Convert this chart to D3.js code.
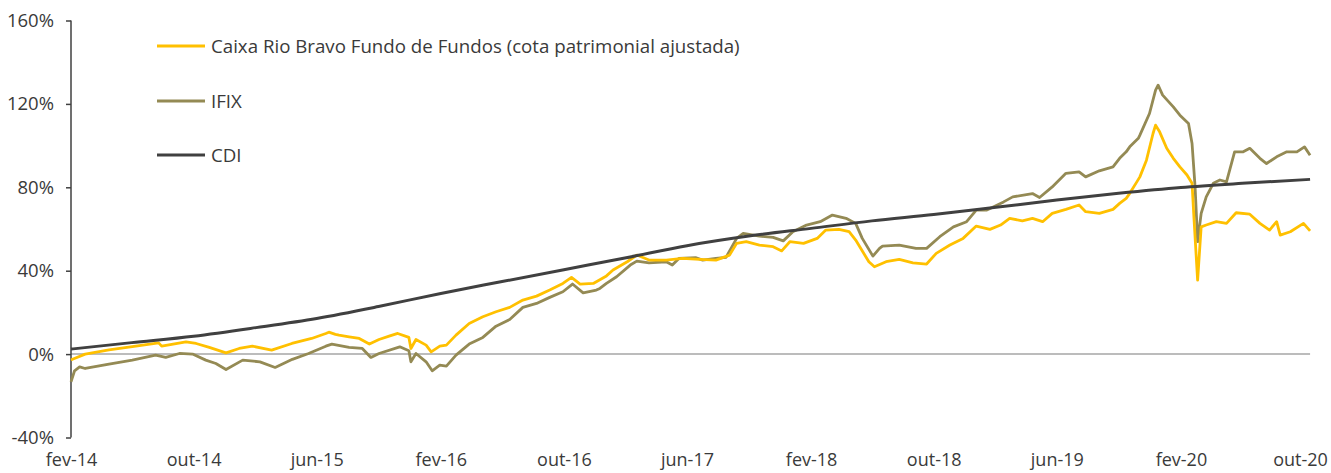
<!DOCTYPE html>
<html>
<head>
<meta charset="utf-8">
<script src="https://cdn.jsdelivr.net/npm/d3@7"></script>
<style>
  html, body { margin: 0; padding: 0; background: #fff; }
  #chart { width: 1331px; height: 473px; }
  text { font-family: 'Open Sans', Lato, sans-serif; fill: #3a3a3a; }
</style>
</head>
<body>
<div id="chart"></div>
<script>
// x axis ticks (every 8 months)
const xTickDates = ['2014-02-01', '2014-10-01', '2015-06-01', '2016-02-01', '2016-10-01', '2017-06-01',
  '2018-02-01', '2018-10-01', '2019-06-01', '2020-02-01', '2020-10-01'];
const xTickLabels = ['fev-14', 'out-14', 'jun-15', 'fev-16', 'out-16', 'jun-17',
  'fev-18', 'out-18', 'jun-19', 'fev-20', 'out-20'];
const yTicks = [-40, 0, 40, 80, 120, 160];

const seriesNames = ['Caixa Rio Bravo Fundo de Fundos (cota patrimonial ajustada)', 'IFIX', 'CDI'];

// accumulated return, %
const caixa = [
  ['2014-02-01', -2.8], ['2014-02-04', -2.5], ['2014-03-01', 0.0], ['2014-04-17', 2.0], ['2014-06-09', 3.8],
  ['2014-07-24', 5.4], ['2014-07-30', 3.8], ['2014-09-16', 5.9], ['2014-10-06', 5.1], ['2014-11-01', 3.2],
  ['2014-12-04', 0.6], ['2014-12-30', 2.7], ['2015-01-25', 3.8], ['2015-03-04', 1.9], ['2015-04-13', 5.1],
  ['2015-05-22', 7.5], ['2015-06-19', 9.9], ['2015-06-25', 10.5], ['2015-07-08', 9.5], ['2015-07-15', 9.1],
  ['2015-08-04', 8.3], ['2015-08-24', 7.5], ['2015-09-13', 4.8], ['2015-10-02', 7.0], ['2015-10-22', 8.6],
  ['2015-11-08', 9.9], ['2015-11-30', 8.0], ['2015-12-04', 2.7], ['2015-12-14', 7.0], ['2016-01-03', 4.3],
  ['2016-01-13', 1.1], ['2016-01-30', 3.8], ['2016-02-12', 4.3], ['2016-03-02', 9.1], ['2016-03-28', 14.7],
  ['2016-04-24', 17.9], ['2016-05-20', 20.3], ['2016-06-16', 22.4], ['2016-07-12', 25.9], ['2016-08-08', 27.8],
  ['2016-09-03', 30.7], ['2016-09-29', 33.9], ['2016-10-16', 36.8], ['2016-11-02', 33.6], ['2016-11-28', 33.9],
  ['2016-12-24', 37.5], ['2017-01-06', 40.3], ['2017-02-03', 44.3], ['2017-02-22', 47.5], ['2017-03-18', 45.1],
  ['2017-04-21', 45.1], ['2017-05-23', 45.9], ['2017-06-26', 45.4], ['2017-07-28', 45.1], ['2017-08-24', 47.5],
  ['2017-09-07', 53.1], ['2017-09-26', 53.9], ['2017-10-22', 52.3], ['2017-11-18', 51.5], ['2017-12-05', 49.5],
  ['2017-12-21', 53.9], ['2018-01-17', 53.1], ['2018-02-13', 55.5], ['2018-03-02', 59.5], ['2018-03-28', 59.8],
  ['2018-04-17', 58.7], ['2018-04-30', 54.7], ['2018-05-20', 46.7], ['2018-05-26', 44.3], ['2018-06-06', 41.9],
  ['2018-06-29', 44.3], ['2018-07-25', 45.4], ['2018-08-21', 43.8], ['2018-09-17', 43.2], ['2018-10-06', 48.3],
  ['2018-11-02', 52.3], ['2018-11-28', 55.5], ['2018-12-24', 61.4], ['2019-01-20', 59.8], ['2019-02-10', 61.9],
  ['2019-02-28', 65.1], ['2019-03-25', 63.9], ['2019-04-14', 65.1], ['2019-05-04', 63.5], ['2019-05-23', 67.5],
  ['2019-06-19', 69.4], ['2019-07-15', 71.5], ['2019-07-28', 68.3], ['2019-08-24', 67.5], ['2019-09-20', 69.4],
  ['2019-10-03', 72.3], ['2019-10-16', 74.7], ['2019-10-23', 77.1], ['2019-11-06', 82.6], ['2019-11-12', 85.0],
  ['2019-11-25', 93.0], ['2019-12-08', 105.8], ['2019-12-13', 109.8], ['2019-12-21', 106.6], ['2020-01-04', 98.7],
  ['2020-01-17', 93.9], ['2020-01-30', 89.8], ['2020-02-13', 85.9], ['2020-02-23', 81.9], ['2020-02-27', 64.3],
  ['2020-03-05', 35.5], ['2020-03-12', 61.0], ['2020-03-22', 61.9], ['2020-04-11', 63.5], ['2020-05-01', 62.7],
  ['2020-05-20', 67.8], ['2020-06-16', 67.1], ['2020-07-06', 62.7], ['2020-07-25', 59.5], ['2020-08-08', 63.5],
  ['2020-08-15', 57.1], ['2020-09-04', 58.7], ['2020-09-30', 62.7], ['2020-10-13', 59.1]
];

const ifix = [
  ['2014-02-01', -13.3], ['2014-02-08', -8.0], ['2014-02-18', -6.1], ['2014-03-01', -6.9], ['2014-04-17', -4.8],
  ['2014-06-02', -2.9], ['2014-07-18', -0.5], ['2014-08-07', -1.6], ['2014-09-03', 0.3], ['2014-09-29', 0.0],
  ['2014-10-25', -2.9], ['2014-11-14', -4.5], ['2014-12-04', -7.4], ['2015-01-06', -2.9], ['2015-02-09', -3.7],
  ['2015-03-11', -6.4], ['2015-04-14', -2.5], ['2015-05-16', 0.3], ['2015-06-19', 3.8], ['2015-07-01', 4.8],
  ['2015-08-04', 3.2], ['2015-08-30', 2.7], ['2015-09-16', -1.6], ['2015-10-02', 0.3], ['2015-11-12', 3.5],
  ['2015-11-30', 1.6], ['2015-12-04', -3.7], ['2015-12-14', 0.3], ['2016-01-03', -3.7], ['2016-01-15', -8.0],
  ['2016-01-30', -5.3], ['2016-02-12', -5.8], ['2016-03-02', -0.5], ['2016-03-28', 4.8], ['2016-04-24', 8.0],
  ['2016-05-20', 13.4], ['2016-06-16', 16.6], ['2016-07-12', 22.4], ['2016-08-08', 24.3], ['2016-09-03', 27.2],
  ['2016-09-29', 29.9], ['2016-10-18', 33.6], ['2016-11-08', 29.4], ['2016-12-04', 30.7], ['2016-12-11', 31.5],
  ['2016-12-24', 33.9], ['2017-01-13', 37.1], ['2017-02-09', 42.7], ['2017-02-22', 44.6], ['2017-03-18', 43.8],
  ['2017-04-21', 44.3], ['2017-05-03', 42.7], ['2017-05-16', 45.9], ['2017-06-19', 46.2], ['2017-07-02', 45.1],
  ['2017-07-28', 45.9], ['2017-08-17', 46.4], ['2017-09-07', 55.5], ['2017-09-20', 57.9], ['2017-10-22', 56.6],
  ['2017-11-18', 56.0], ['2017-12-08', 54.3], ['2017-12-27', 58.7], ['2018-01-23', 61.9], ['2018-02-19', 63.5],
  ['2018-03-15', 66.7], ['2018-04-11', 65.1], ['2018-04-30', 62.7], ['2018-05-13', 55.5], ['2018-06-03', 47.0],
  ['2018-06-16', 50.7], ['2018-06-22', 51.8], ['2018-07-25', 52.3], ['2018-08-27', 50.7], ['2018-09-17', 50.7],
  ['2018-10-13', 56.3], ['2018-11-09', 61.0], ['2018-12-05', 63.5], ['2018-12-24', 69.1], ['2019-01-14', 69.1],
  ['2019-02-16', 73.0], ['2019-03-06', 75.4], ['2019-04-14', 77.0], ['2019-04-28', 75.1], ['2019-05-23', 80.2],
  ['2019-06-19', 86.7], ['2019-07-15', 87.4], ['2019-07-28', 85.0], ['2019-08-24', 87.9], ['2019-09-20', 89.8],
  ['2019-10-03', 93.9], ['2019-10-16', 97.0], ['2019-10-23', 99.4], ['2019-11-09', 103.5], ['2019-11-12', 105.0],
  ['2019-12-01', 115.4], ['2019-12-13', 126.6], ['2019-12-18', 129.0], ['2019-12-27', 124.2], ['2020-01-17', 118.6],
  ['2020-01-30', 114.6], ['2020-02-16', 110.6], ['2020-02-23', 101.0], ['2020-02-29', 80.2], ['2020-03-05', 53.9],
  ['2020-03-12', 67.5], ['2020-03-22', 75.4], ['2020-04-05', 81.9], ['2020-04-18', 83.5], ['2020-05-01', 82.6],
  ['2020-05-17', 97.0], ['2020-06-03', 97.0], ['2020-06-16', 98.7], ['2020-07-06', 93.9], ['2020-07-19', 91.4],
  ['2020-08-08', 94.6], ['2020-08-28', 97.0], ['2020-09-17', 97.0], ['2020-10-02', 99.4], ['2020-10-13', 95.4]
];

const cdi = [
  ['2014-02-01', 2.4], ['2014-06-01', 5.5], ['2014-10-01', 8.6], ['2015-02-01', 12.7], ['2015-06-01', 17.1],
  ['2015-10-01', 22.8], ['2016-02-01', 29.1], ['2016-06-01', 34.8], ['2016-10-01', 40.5], ['2017-02-01', 46.2],
  ['2017-06-01', 52.0], ['2017-10-01', 56.6], ['2018-02-01', 60.3], ['2018-06-01', 63.9], ['2018-10-01', 66.9],
  ['2019-02-01', 70.4], ['2019-06-01', 73.9], ['2019-10-01', 77.1], ['2020-02-01', 79.9], ['2020-06-01', 81.9],
  ['2020-10-13', 83.8]
];

const seriesColors = ['#ffc000', '#948a54', '#404040'];

class LineChart {

  constructor(containerEl, props) {
    this.props = props;
    const { width, height } = props;
    this.svg = d3.select(containerEl)
      .append('svg')
      .attr('width', width)
      .attr('height', height);
    this.parse = d3.utcParse('%Y-%m-%d');
    this.x = d3.scaleUtc()
      .domain([this.parse('2014-02-01'), this.parse('2020-10-01')])
      .range([71, 1304]);
    this.y = d3.scaleLinear()
      .domain([-40, 160])
      .range([437.5, 20.5]);
    this.drawAxes();
    this.drawLines();
    this.drawLegend();
  }

  drawAxes = () => {
    const { svg, x, y, parse } = this;

    // zero line
    svg.append('line')
      .attr('x1', x.range()[0])
      .attr('x2', x(parse('2020-10-13')))
      .attr('y1', y(0))
      .attr('y2', y(0))
      .style('stroke', '#a6a6a6')
      .style('stroke-width', 1.5);

    const yAxis = svg.append('g')
      .attr('transform', `translate(${x.range()[0]},0)`)
      .call(d3.axisLeft(y).tickValues(yTicks).tickSize(5).tickPadding(12).tickFormat(d => d + '%'));
    yAxis.select('.domain').attr('d', `M0,${y(160)}V${y(-40)}`).style('stroke', '#404040').style('stroke-width', 1.5);
    yAxis.selectAll('.tick line').style('stroke', '#404040').style('stroke-width', 1.5);
    yAxis.selectAll('.tick text')
      .style('font-family', "'Open Sans', sans-serif")
      .style('font-size', '18.5px')
      .style('fill', '#3a3a3a');

    const xAxis = svg.append('g')
      .attr('transform', `translate(0,${y(-40)})`)
      .call(d3.axisBottom(x)
        .tickValues(xTickDates.map(parse))
        .tickSize(0)
        .tickPadding(16)
        .tickFormat((d, i) => xTickLabels[i]));
    xAxis.select('.domain').remove();
    xAxis.selectAll('.tick text')
      .style('font-family', "'Open Sans', sans-serif")
      .style('font-size', '18px')
      .style('fill', '#3a3a3a');
    // keep the last label inside the frame
    xAxis.selectAll('.tick:last-of-type text').attr('dx', -4);
  }

  drawLines = () => {
    const { svg, x, y, parse } = this;
    const line = d3.line()
      .x(d => x(parse(d[0])))
      .y(d => y(d[1]));
    const smooth = d3.line()
      .curve(d3.curveMonotoneX)
      .x(d => x(parse(d[0])))
      .y(d => y(d[1]));

    svg.append('path')
      .datum(ifix)
      .attr('d', line)
      .style('fill', 'none')
      .style('stroke', seriesColors[1])
      .style('stroke-width', 2.8)
      .style('stroke-linejoin', 'round');

    svg.append('path')
      .datum(caixa)
      .attr('d', line)
      .style('fill', 'none')
      .style('stroke', seriesColors[0])
      .style('stroke-width', 2.8)
      .style('stroke-linejoin', 'round');

    svg.append('path')
      .datum(cdi)
      .attr('d', smooth)
      .style('fill', 'none')
      .style('stroke', seriesColors[2])
      .style('stroke-width', 3);
  }

  drawLegend = () => {
    const { svg } = this;
    const rows = [46, 101, 155];
    const legend = svg.append('g');
    const item = legend.selectAll('g')
      .data(seriesNames)
      .enter()
      .append('g')
      .attr('transform', (d, i) => `translate(157,${rows[i]})`);
    item.append('line')
      .attr('x1', 0)
      .attr('x2', 48)
      .style('stroke', (d, i) => seriesColors[i])
      .style('stroke-width', 3);
    item.append('text')
      .attr('x', 54)
      .attr('dy', '0.35em')
      .style('font-size', '18.7px')
      .text(d => d);
  }
}

new LineChart(document.getElementById('chart'), { width: 1331, height: 473 });
</script>
</body>
</html>
